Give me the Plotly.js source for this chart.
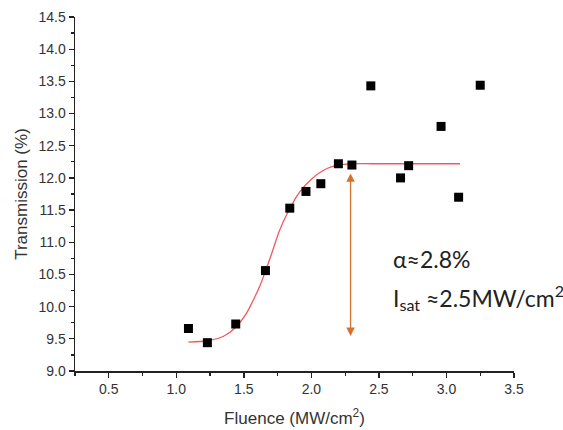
<!DOCTYPE html>
<html>
<head>
<meta charset="utf-8">
<script src="https://cdn.plot.ly/plotly-3.0.1.min.js"></script>
<style>html,body{margin:0;padding:0;background:#fff;}#chart{width:563px;height:430px;}</style>
</head>
<body>
<div id="chart"></div>
<script>
// Measured data
const fluence = [1.09, 1.23, 1.44, 1.66, 1.84, 1.96, 2.07, 2.2, 2.3, 2.44, 2.66, 2.72, 2.96, 3.09, 3.25];
const transmission = [9.66, 9.44, 9.73, 10.56, 11.53, 11.79, 11.91, 12.22, 12.2, 13.43, 12.0, 12.19, 12.8, 11.7, 13.44];
// Fitted curve
const fitX = [1.09, 1.23, 1.35, 1.44, 1.52, 1.56, 1.62, 1.66, 1.71, 1.76, 1.81, 1.85, 1.89, 1.94, 2.0, 2.06, 2.12, 2.18, 2.24, 2.3, 2.45, 2.6, 2.8, 3.0, 3.1];
const fitY = [9.45, 9.47, 9.54, 9.68, 9.9, 10.06, 10.33, 10.55, 10.85, 11.16, 11.4, 11.56, 11.71, 11.85, 11.98, 12.08, 12.15, 12.19, 12.21, 12.22, 12.22, 12.22, 12.22, 12.22, 12.22];
// Arrow endpoints
const arrowX = 2.29;
const arrowTop = 12.07;
const arrowBottom = 9.52;
const xTicks = [0.5, 1.0, 1.5, 2.0, 2.5, 3.0, 3.5];
const yTicks = [9.0, 9.5, 10.0, 10.5, 11.0, 11.5, 12.0, 12.5, 13.0, 13.5, 14.0, 14.5];

const FONT = "Arial, 'Liberation Sans', sans-serif";
const NOTE_FONT = "Lato, 'Open Sans', sans-serif";

const traces = [
  {x: fitX, y: fitY, mode: 'lines', line: {color: '#f0595c', width: 1.3, shape: 'spline', smoothing: 0.8}, hoverinfo: 'skip'},
  {x: fluence, y: transmission, mode: 'markers', marker: {symbol: 'square', size: 9, color: '#000'}}
];

const axisCommon = {
  showgrid: false, zeroline: false, showline: true, linecolor: '#222', linewidth: 1.5,
  ticks: 'outside', ticklen: 5, tickwidth: 1.3, tickcolor: '#222',
  tickfont: {family: FONT, size: 14, color: '#333'},
  mirror: false
};

const layout = {
  width: 563, height: 430,
  margin: {l: 75, r: 49, t: 17, b: 59},
  paper_bgcolor: '#fff', plot_bgcolor: '#fff',
  showlegend: false,
  xaxis: Object.assign({}, axisCommon, {
    range: [0.25, 3.5], tickvals: xTicks, ticktext: xTicks.map(v => v.toFixed(1)),
    minor: {dtick: 0.25, tick0: 0.25, ticks: 'outside', ticklen: 3, tickwidth: 1.2, tickcolor: '#222'},
    title: {text: 'Fluence (MW/cm<sup>2</sup>)', font: {family: FONT, size: 17, color: '#333'}, standoff: 16}
  }),
  yaxis: Object.assign({}, axisCommon, {
    range: [9.0, 14.5], tickvals: yTicks, ticktext: yTicks.map(v => v.toFixed(1)),
    minor: {dtick: 0.25, tick0: 9.0, ticks: 'outside', ticklen: 3, tickwidth: 1.2, tickcolor: '#222'},
    title: {text: 'Transmission (%)', font: {family: FONT, size: 17, color: '#333'}, standoff: 6}
  }),
  annotations: [
    {x: arrowX, y: arrowTop, ax: arrowX, ay: arrowBottom, xref: 'x', yref: 'y', axref: 'x', ayref: 'y',
     text: '', showarrow: true, arrowhead: 2, startarrowhead: 2, arrowside: 'end+start', arrowsize: 1.3, startarrowsize: 1.3,
     arrowwidth: 1.3, arrowcolor: '#d2722e'},
    {x: 2.59, y: 10.74, xref: 'x', yref: 'y', xanchor: 'left', yanchor: 'middle', showarrow: false,
     text: 'α≈2.8%', font: {family: NOTE_FONT, size: 23, color: '#222'}},
    {x: 2.59, y: 10.14, xref: 'x', yref: 'y', xanchor: 'left', yanchor: 'middle', showarrow: false,
     text: 'I<sub>sat</sub> ≈2.5MW/cm<sup>2</sup>', font: {family: NOTE_FONT, size: 23, color: '#222'}}
  ]
};

Plotly.newPlot('chart', traces, layout, {displayModeBar: false, staticPlot: true});
</script>
</body>
</html>
